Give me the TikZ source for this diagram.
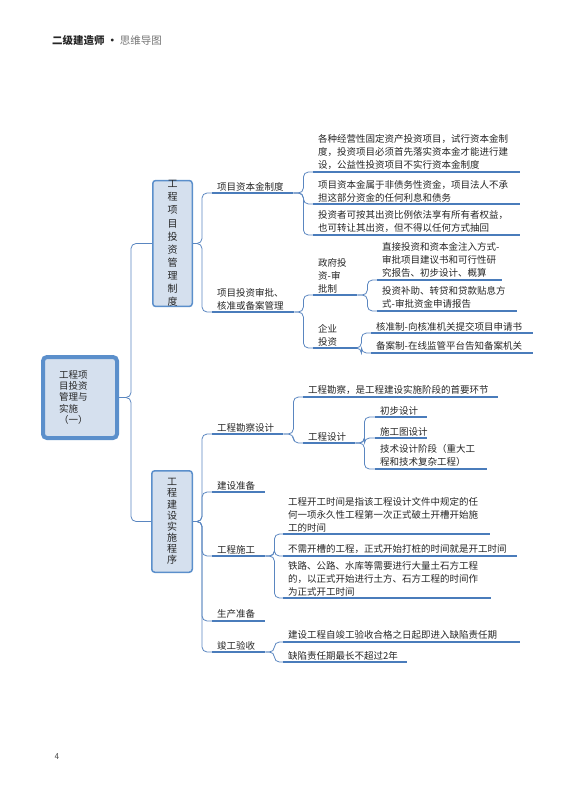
\documentclass[tikz,border=0pt]{standalone}
\usepackage{fontspec}
\newfontfamily\cjk{Noto Sans CJK SC}
\usetikzlibrary{calc}
\definecolor{ul}{HTML}{4A7CBB}
\definecolor{cn}{HTML}{5A86C0}
\definecolor{bxf}{HTML}{D5E0EE}
\definecolor{bxd}{HTML}{5B8FCB}
\definecolor{txt}{HTML}{262626}
\begin{document}
\begin{tikzpicture}[x=1pt,y=-1pt,
  conn/.style={draw=cn, line width=0.8pt, rounded corners=5pt},
  uline/.style={draw=ul, line width=2.4pt},
  lab/.style={anchor=south west, inner xsep=5pt, inner ysep=2pt, align=left,
    font=\cjk\fontsize{9.5}{13}\selectfont, text=txt},
  vbox/.style={draw=bxd, fill=bxf, line width=1.5pt, rounded corners=3pt,
    align=center, inner sep=0pt, text=txt},
  rootbox/.style={draw=bxd, fill=bxf, line width=4pt, rounded corners=4pt,
    align=left, inner sep=0pt, text width=42pt,
    font=\cjk\fontsize{9.5}{11.3}\selectfont, text=txt}]
\useasboundingbox (0,0) rectangle (574,800);

% header and page number
\node[anchor=west, inner sep=0pt, font=\cjk\fontsize{10.5}{12}\selectfont] (hdr) at (52,40)
  {\textcolor{txt}{\bfseries 二级建造师 ·} \textcolor{black!55}{思维导图}};
\node[inner sep=0pt, font=\sffamily\fontsize{9}{10}\selectfont, text=black!70] (pg) at (57,757) {4};

% root and level-1 boxes
\node[rootbox, minimum width=74pt, minimum height=81pt] (root) at (80,397.5)
  {工程项\\目投资\\管理与\\实施\\（一）};
\node[vbox, minimum width=39.5pt, minimum height=124pt,
  font=\cjk\fontsize{10}{13.1}\selectfont] (box1) at (172.5,243.5)
  {工\\程\\项\\目\\投\\资\\管\\理\\制\\度};
\node[vbox, minimum width=40.5pt, minimum height=101.5pt,
  font=\cjk\fontsize{10}{11.1}\selectfont] (box2) at (172,521.5)
  {工\\程\\建\\设\\实\\施\\程\\序};

% level 2 under box1
\node[lab, text width=71pt] (a1) at (212,193) {项目资本金制度};
\node[lab, text width=72pt] (a2) at (212,312) {项目投资审批、\\核准或备案管理};
% a1 children
\node[lab, text width=197pt] (a11) at (313,172) {各种经营性固定资产投资项目，试行资本金制\\度，投资项目必须首先落实资本金才能进行建\\设，公益性投资项目不实行资本金制度};
\node[lab, text width=197pt] (a12) at (313,204) {项目资本金属于非债务性资金，项目法人不承\\担这部分资金的任何利息和债务};
\node[lab, text width=197pt] (a13) at (313,235) {投资者可按其出资比例依法享有所有者权益，\\也可转让其出资，但不得以任何方式抽回};
% a2 children
\node[lab, text width=34pt] (a21) at (313,295) {\mbox{政府投}\\\mbox{资-审}\\批制};
\node[lab, text width=34pt] (a22) at (313,348) {企业\\投资};
\node[lab, text width=115pt] (a211) at (377,280) {\mbox{直接投资和资本金注入方式-}\\审批项目建议书和可行性研\\究报告、初步设计、概算};
\node[lab, text width=130pt] (a212) at (377,311) {投资补助、转贷和贷款贴息方\\\mbox{式-审批资金申请报告}};
\node[lab, text width=152pt] (a221) at (371,333) {\mbox{核准制-向核准机关提交项目申请书}};
\node[lab, text width=152pt] (a222) at (371,353) {\mbox{备案制-在线监管平台告知备案机关}};

% level 2 under box2
\node[lab, text width=61pt] (b1) at (212,434) {工程勘察设计};
\node[lab, text width=43pt] (b2) at (212,492) {建设准备};
\node[lab, text width=43pt] (b3) at (212,556) {工程施工};
\node[lab, text width=43pt] (b4) at (212,621) {生产准备};
\node[lab, text width=43pt] (b5) at (212,652) {竣工验收};
% b1 children
\node[lab, text width=185pt] (b11) at (303,397) {工程勘察，是工程建设实施阶段的首要环节};
\node[lab, text width=42pt] (b12) at (303,443) {工程设计};
\node[lab, text width=42pt] (b121) at (375,417) {初步设计};
\node[lab, text width=42pt] (b122) at (375,438) {施工图设计};
\node[lab, text width=102pt] (b123) at (375,469) {技术设计阶段（重大工\\程和技术复杂工程）};
% b3 children
\node[lab, text width=197pt] (b31) at (283,534) {工程开工时间是指该工程设计文件中规定的任\\何一项永久性工程第一次正式破土开槽开始施\\工的时间};
\node[lab, text width=224pt] (b32) at (283,556) {不需开槽的工程，正式开始打桩的时间就是开工时间};
\node[lab, text width=198pt] (b33) at (283,598) {铁路、公路、水库等需要进行大量土石方工程\\的，以正式开始进行土方、石方工程的时间作\\为正式开工时间};
% b5 children
\node[lab, text width=227pt] (b51) at (283,642) {建设工程自竣工验收合格之日起即进入缺陷责任期};
\node[lab, text width=114pt] (b52) at (283,662) {缺陷责任期最长不超过2年};

% connectors
\foreach \c in {box1,box2}
  \draw[conn] (root.east) -- ++(12,0) |- (\c.west);
\foreach \c in {a1,a2}
  \draw[conn] (box1.east) -- ++(9,0) |- (\c.south west);
\foreach \c in {b1,b2,b3,b4,b5}
  \draw[conn] (box2.east) -- ++(9,0) |- (\c.south west);
\foreach \c in {a11,a12,a13}
  \draw[conn] (a1.south east) -- ++(10,0) |- (\c.south west);
\foreach \c in {a21,a22}
  \draw[conn] (a2.south east) -- ++(9,0) |- (\c.south west);
\foreach \c in {a211,a212}
  \draw[conn] (a21.south east) -- ++(10,0) |- (\c.south west);
\foreach \c in {a221,a222}
  \draw[conn] (a22.south east) -- ++(4,0) |- (\c.south west);
\foreach \c in {b11,b12}
  \draw[conn] (b1.south east) -- ++(10,0) |- (\c.south west);
\foreach \c in {b121,b122,b123}
  \draw[conn] (b12.south east) -- ++(9,0) |- (\c.south west);
\foreach \c in {b31,b32,b33}
  \draw[conn] (b3.south east) -- ++(9,0) |- (\c.south west);
\foreach \c in {b51,b52}
  \draw[conn] (b5.south east) -- ++(9,0) |- (\c.south west);

% underlines
\foreach \n in {a1,a2,a11,a12,a13,a21,a22,a211,a212,a221,a222,
  b1,b2,b3,b4,b5,b11,b12,b121,b122,b123,b31,b32,b33,b51,b52}
  \draw[uline] (\n.south west) -- (\n.south east);
\end{tikzpicture}
\end{document}
